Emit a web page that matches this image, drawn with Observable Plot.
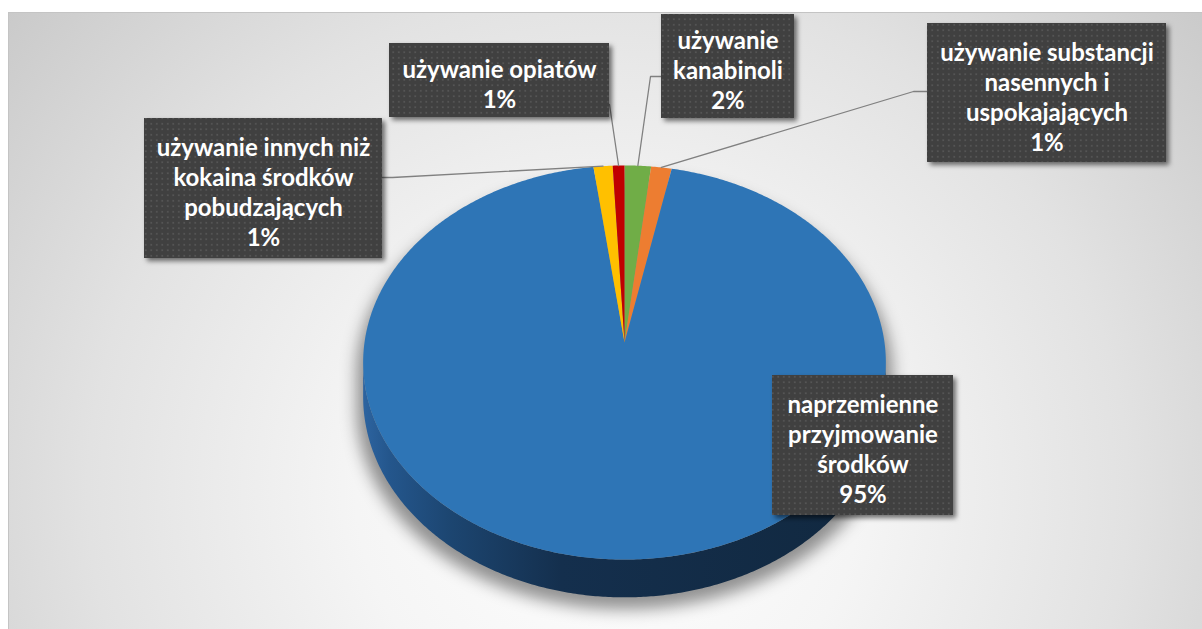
<!DOCTYPE html>
<html><head><meta charset="utf-8">
<script src="https://cdn.jsdelivr.net/npm/d3@7"></script>
<script src="https://cdn.jsdelivr.net/npm/@observablehq/plot@0.6"></script>
<style>
html,body{margin:0;padding:0;background:#fff;width:1202px;height:629px;overflow:hidden}
#frame{position:absolute;left:8px;top:12px;width:1200px;height:630px;border:1px solid #c4c4c4;box-sizing:border-box;
 background:radial-gradient(ellipse 70% 130% at 50% 76%, #ffffff 0%, #f5f5f5 30%, #e2e2e2 62%, #c4c4c4 100%);}
#chart{position:absolute;left:0;top:0}
</style></head><body><div id="frame"></div><div id="chart"></div>
<script>
// ---- data (clockwise from 12 o'clock) ----
const categories = [
  "używanie kanabinoli",
  "używanie substancji nasennych i uspokajających",
  "naprzemienne przyjmowanie środków",
  "używanie innych niż kokaina środków pobudzających",
  "używanie opiatów"
];
const values = [1.8, 1.4, 94.7, 1.3, 0.8];
const percentLabels = ["2%", "1%", "95%", "1%", "1%"];
const labelLines = [
  ["używanie", "kanabinoli"],
  ["używanie substancji", "nasennych i", "uspokajających"],
  ["naprzemienne", "przyjmowanie", "środków"],
  ["używanie innych niż", "kokaina środków", "pobudzających"],
  ["używanie opiatów"]
];
const sliceColors = ["#70ad47", "#ed7d31", "#2e75b6", "#ffc000", "#c00000"];

// ---- layout ----
const W = 1202, H = 629;
const pie3d = {cx: 624, cy: 342, rx: 260, ry: 195, g: 0.1015, depth: 34};
const labelBoxes = [
  {x0: 661, y0: 14, x1: 794, y1: 118, anchor: [661, 76], elbow: [650, 76]},
  {x0: 927, y0: 23, x1: 1166, y1: 162, anchor: [927, 91], elbow: [913, 91]},
  {x0: 772, y0: 375, x1: 953, y1: 515, anchor: null},
  {x0: 144, y0: 118, x1: 382, y1: 258, anchor: [382, 177], elbow: [392, 177]},
  {x0: 389, y0: 43, x1: 609, y1: 117, anchor: [609, 104], elbow: [609, 104]}
];

function proj(t, drop = 0) {
  const u = Math.sin(t), v = -Math.cos(t);
  const s = 1 / (1 - pie3d.g * v);
  return [pie3d.cx + pie3d.rx * u * s, pie3d.cy + pie3d.ry * v * s + drop * s];
}
function arcPoints(a0, a1, drop = 0) {
  const n = Math.max(2, Math.ceil(Math.abs(a1 - a0) / (Math.PI / 360)));
  return d3.range(n + 1).map(i => proj(a0 + (a1 - a0) * i / n, drop));
}

const arcs = d3.pie().sort(null).value(d => d)(values);

// slice polygons
const slicePts = [];
arcs.forEach((a, i) => {
  slicePts.push({x: pie3d.cx, y: pie3d.cy, slice: i});
  arcPoints(a.startAngle, a.endAngle).forEach(([x, y]) => slicePts.push({x, y, slice: i}));
});

// side wall (front half)
const tR = Math.acos(-pie3d.g), tL = 2 * Math.PI - tR;
const sidePts = [
  ...arcPoints(tR, tL, 0),
  ...arcPoints(tL, tR, pie3d.depth)
].map(([x, y]) => ({x, y}));

// shadow outline
const shadowPts = [
  ...arcPoints(-tR, tR, 0),
  ...arcPoints(tR, tL, pie3d.depth)
].map(([x, y]) => ({x: pie3d.cx + (x - pie3d.cx) * 1.025, y: y + 12}));

// leader lines
const leaderPts = [];
labelBoxes.forEach((b, i) => {
  if (!b.anchor) return;
  const mid = (arcs[i].startAngle + arcs[i].endAngle) / 2;
  const end = proj(mid);
  [b.anchor, b.elbow, end].forEach(([x, y]) => leaderPts.push({x, y, z: i}));
});

const labelData = labelBoxes.map((b, i) => ({
  ...b, text: [...labelLines[i], percentLabels[i]].join("\n")
}));

const fontSize = 24;
const svg = Plot.plot({
  width: W, height: H,
  margin: 0,
  x: {domain: [0, W], range: [0, W], axis: null},
  y: {domain: [0, H], range: [0, H], axis: null},
  color: {type: "identity"},
  style: {background: "transparent", overflow: "visible"},
  marks: [
    Plot.line(shadowPts, {x: "x", y: "y", fill: "#000", fillOpacity: 0.42, stroke: "none", curve: "linear-closed", ariaDescription: "pie-shadow"}),
    Plot.line(sidePts, {x: "x", y: "y", fill: "url(#sideGrad)", stroke: "none", curve: "linear-closed", ariaDescription: "pie-side"}),
    Plot.line(slicePts, {x: "x", y: "y", z: "slice", fill: d => sliceColors[d.slice], stroke: "none", curve: "linear-closed"}),
    Plot.line(leaderPts, {x: "x", y: "y", z: "z", stroke: "#808080", strokeWidth: 1.3}),
    Plot.rect(labelData, {x1: "x0", x2: "x1", y1: "y0", y2: "y1", fill: "url(#dots)", ariaDescription: "label-box"}),
    Plot.text(labelData, {
      x: d => (d.x0 + d.x1) / 2, y: d => (d.y0 + d.y1) / 2 + 3,
      text: "text", fill: "white", fontSize, fontWeight: "bold",
      fontFamily: "Lato, 'Open Sans', sans-serif", lineHeight: 30 / fontSize
    })
  ]
});

// defs: gradients, pattern, filters
const defs = d3.select(svg).insert("defs", ":first-child");
const sg = defs.append("linearGradient").attr("id", "sideGrad").attr("x1", 0).attr("x2", 1).attr("y1", 0).attr("y2", 0);
[[0, "#2d64a0"], [0.05, "#24568c"], [0.17, "#1c4570"], [0.38, "#142f4d"], [1, "#11283f"]]
  .forEach(([o, c]) => sg.append("stop").attr("offset", o).attr("stop-color", c));
const pat = defs.append("pattern").attr("id", "dots").attr("patternUnits", "userSpaceOnUse").attr("width", 5.5).attr("height", 5.5);
pat.append("rect").attr("width", 5.5).attr("height", 5.5).attr("fill", "#404040");
pat.append("rect").attr("x", 2).attr("y", 2).attr("width", 1.6).attr("height", 1.6).attr("fill", "#5a5a5a");
const blur = defs.append("filter").attr("id", "blurShadow").attr("x", "-20%").attr("y", "-20%").attr("width", "140%").attr("height", "140%");
blur.append("feGaussianBlur").attr("stdDeviation", 8);
const ds = defs.append("filter").attr("id", "boxShadow").attr("x", "-10%").attr("y", "-10%").attr("width", "130%").attr("height", "130%");
ds.append("feDropShadow").attr("dx", 3).attr("dy", 3).attr("stdDeviation", 2.5).attr("flood-color", "#000").attr("flood-opacity", 0.55);

d3.select(svg).selectAll('[aria-description="pie-shadow"]').attr("filter", "url(#blurShadow)");
d3.select(svg).selectAll('[aria-description="label-box"]').attr("filter", "url(#boxShadow)");

document.getElementById("chart").appendChild(svg);
</script>
</body></html>
